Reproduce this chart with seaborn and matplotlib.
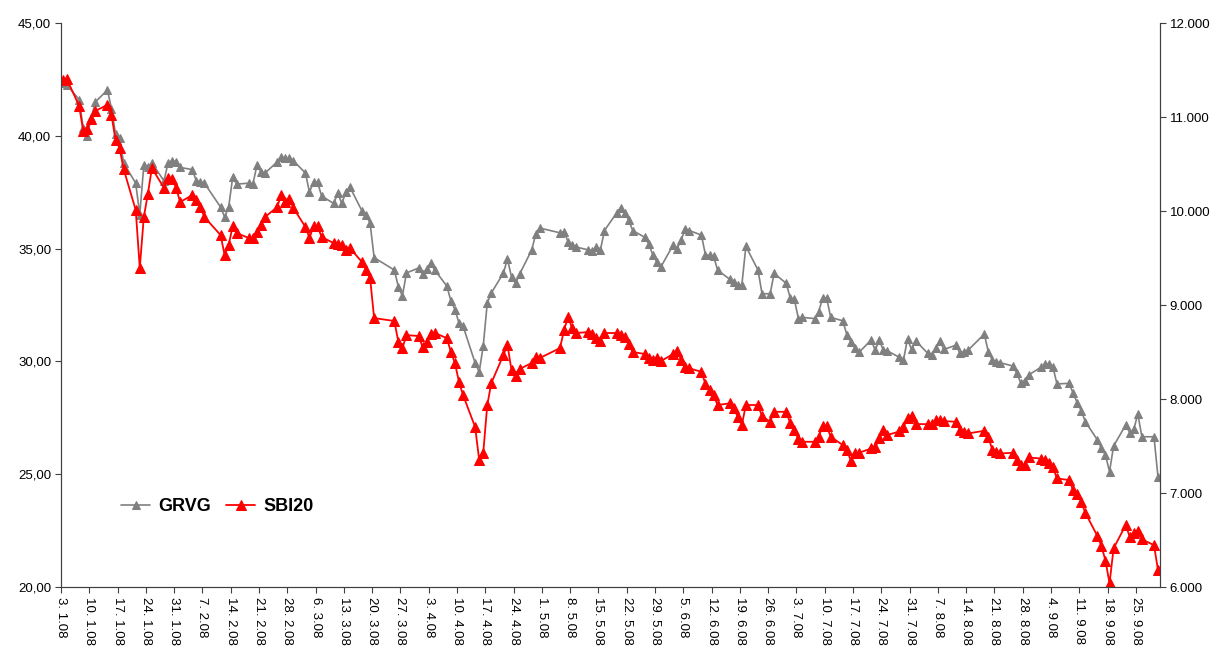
"""GRVG share price vs SBI20 index, Jan-Sep 2008."""

import matplotlib.pyplot as plt
import matplotlib.dates as mdates
import pandas as pd
import seaborn as sns

sns.set_style("ticks")
plt.rcParams["font.family"] = ["Liberation Sans", "DejaVu Sans"]
plt.rcParams["text.color"] = "black"
plt.rcParams["xtick.labelcolor"] = "black"
plt.rcParams["ytick.labelcolor"] = "black"

# Ljubljana exchange closed on these weekdays
HOLIDAYS = ["2008-02-08", "2008-03-21", "2008-03-24", "2008-05-01",
            "2008-05-02", "2008-06-25", "2008-08-15"]

# GRVG closing price (left axis, EUR)
grvg_jan = [42.34, 42.25, 41.6, 40.35, 40.0, 40.8, 41.5, 42.03, 41.2, 40.1, 39.9,
            38.8, 37.9, 36.5, 38.7, 38.6, 38.8, 38.0, 38.8, 38.9, 38.85]
grvg_feb = [38.6, 38.5, 38.0, 37.95, 37.9, 36.84, 36.4, 36.84, 38.17, 37.86,
            37.9, 37.86, 38.7, 38.4, 38.35, 38.84, 39.06, 39.0, 39.0, 38.9]
grvg_mar = [38.35, 37.5, 37.95, 37.95, 37.33, 37.0, 37.46, 37.0, 37.5, 37.73,
            36.67, 36.5, 36.13, 34.6, 34.05, 33.3, 32.9, 33.92, 34.14]
grvg_apr = [33.87, 34.1, 34.36, 34.05, 33.34, 32.68, 32.3, 31.7, 31.57, 29.93, 29.53,
            30.68, 32.59, 33.03, 33.92, 34.54, 33.74, 33.47, 33.87, 34.94, 35.65, 35.91]
grvg_may = [35.7, 35.75, 35.3, 35.16, 35.07, 34.94, 34.9, 35.07, 34.94, 35.8,
            36.58, 36.8, 36.58, 36.27, 35.8, 35.5, 35.2, 34.7, 34.4, 34.2]
grvg_jun = [35.16, 35.0, 35.4, 35.85, 35.8, 35.6, 34.72, 34.7, 34.67, 34.05,
            33.64, 33.53, 33.39, 33.39, 35.1, 34.05, 33.0, 33.0, 33.9, 33.46]
grvg_jul = [32.8, 32.75, 31.9, 31.95, 31.9, 32.2, 32.8, 32.8, 31.95, 31.8, 31.17, 30.87,
            30.6, 30.4, 30.95, 30.5, 30.95, 30.5, 30.47, 30.18, 30.06, 31.0, 30.53]
grvg_aug = [30.92, 30.36, 30.3, 30.6, 30.92, 30.53, 30.72, 30.36, 30.43, 30.5,
            31.21, 30.43, 30.06, 29.97, 29.94, 29.8, 29.5, 29.06, 29.15, 29.4]
grvg_sep = [29.74, 29.89, 29.89, 29.74, 29.0, 29.03, 28.59, 28.17, 27.82, 27.33, 26.52,
            26.15, 25.85, 25.11, 26.25, 27.18, 26.84, 26.99, 27.67, 26.66, 26.66, 24.86]

# SBI20 index (right axis)
sbi_jan = [11394, 11400, 11117, 10851, 10872, 10979, 11064, 11130, 11021, 10755, 10670,
           10447, 10010, 9393, 9936, 10180, 10457, 10245, 10351, 10340, 10245]
sbi_feb = [10095, 10170, 10117, 10042, 9936, 9744, 9531, 9638, 9840, 9766,
           9712, 9712, 9776, 9851, 9936, 10042, 10170, 10095, 10127, 10032]
sbi_mar = [9830, 9712, 9840, 9840, 9723, 9659, 9648, 9638, 9585, 9606,
           9457, 9372, 9287, 8861, 8830, 8606, 8542, 8680, 8670]
sbi_apr = [8553, 8606, 8691, 8702, 8648, 8500, 8383, 8181, 8043, 7702, 7351,
           7425, 7936, 8170, 8468, 8574, 8308, 8244, 8319, 8383, 8447, 8436]
sbi_may = [8542, 8734, 8872, 8755, 8702, 8713, 8691, 8648, 8617, 8702,
           8702, 8680, 8659, 8585, 8500, 8479, 8436, 8415, 8436, 8404]
sbi_jun = [8479, 8510, 8415, 8340, 8326, 8290, 8159, 8100, 8042, 7936,
           7954, 7900, 7811, 7723, 7936, 7936, 7817, 7758, 7864, 7864]
sbi_jul = [7740, 7670, 7570, 7545, 7545, 7598, 7712, 7712, 7598, 7510, 7455, 7343,
           7428, 7428, 7474, 7485, 7580, 7670, 7617, 7655, 7700, 7794, 7819]
sbi_aug = [7733, 7733, 7733, 7776, 7780, 7765, 7758, 7670, 7652, 7634,
           7662, 7598, 7457, 7438, 7421, 7428, 7350, 7297, 7297, 7378]
sbi_sep = [7367, 7350, 7315, 7272, 7155, 7138, 7031, 6989, 6907, 6790, 6542,
           6436, 6280, 6039, 6411, 6659, 6535, 6570, 6598, 6507, 6446, 6180]

grvg = grvg_jan + grvg_feb + grvg_mar + grvg_apr + grvg_may + grvg_jun + grvg_jul + grvg_aug + grvg_sep
sbi20 = sbi_jan + sbi_feb + sbi_mar + sbi_apr + sbi_may + sbi_jun + sbi_jul + sbi_aug + sbi_sep

days = pd.bdate_range("2008-01-03", "2008-09-30").drop(pd.to_datetime(HOLIDAYS))
df = pd.DataFrame({"date": days, "GRVG": grvg, "SBI20": sbi20})

week_ticks = pd.date_range("2008-01-03", "2008-09-25", freq="7D")
week_labels = [f"{d.day}. {d.month}.{d:%y}" for d in week_ticks]

fig, ax = plt.subplots(figsize=(12.17, 6.48), dpi=100)
ax2 = ax.twinx()

sns.lineplot(data=df, x="date", y="GRVG", ax=ax, color="#808080", marker="^",
             markersize=6, markeredgecolor="#808080", linewidth=1.2, legend=False)
sns.lineplot(data=df, x="date", y="SBI20", ax=ax2, color="#ff0000", marker="^",
             markersize=7.5, markeredgecolor="#ff0000", linewidth=1.3, legend=False)

half_day = pd.Timedelta(hours=12)
ax.set_xlim(days[0] - half_day, days[-1] + half_day)
ax.set_ylim(20, 45)
ax2.set_ylim(6000, 12000)
ax.set_yticks(range(20, 46, 5))
ax2.set_yticks(range(6000, 12001, 1000))
ax.set_yticklabels([f"{v:.2f}".replace(".", ",") for v in range(20, 46, 5)], fontsize=9.5)
ax2.set_yticklabels([f"{v:,.0f}".replace(",", ".") for v in range(6000, 12001, 1000)], fontsize=9.5)

ax.set_xticks(mdates.date2num(week_ticks) - 0.5)
ax.set_xticklabels(week_labels, rotation=-90, ha="center", va="top", fontsize=9.5)

for a in (ax, ax2):
    a.set_xlabel("")
    a.set_ylabel("")
    a.spines["top"].set_visible(False)
    for s in ("left", "right", "bottom"):
        a.spines[s].set_color("#404040")
    a.tick_params(direction="out", length=4, color="#404040", pad=3)

ax2.legend([ax.lines[0], ax2.lines[0]], ["GRVG", "SBI20"], loc="center left",
           bbox_to_anchor=(0.04, 0.143), ncol=2, frameon=False, numpoints=1,
           prop={"weight": "bold", "size": 13}, handlelength=1.6,
           handletextpad=0.45, columnspacing=0.85, labelcolor="black")

plt.subplots_adjust(left=0.0501, right=0.9532, top=0.9645, bottom=0.0941)
plt.savefig("out.png", dpi=100)
plt.close()
